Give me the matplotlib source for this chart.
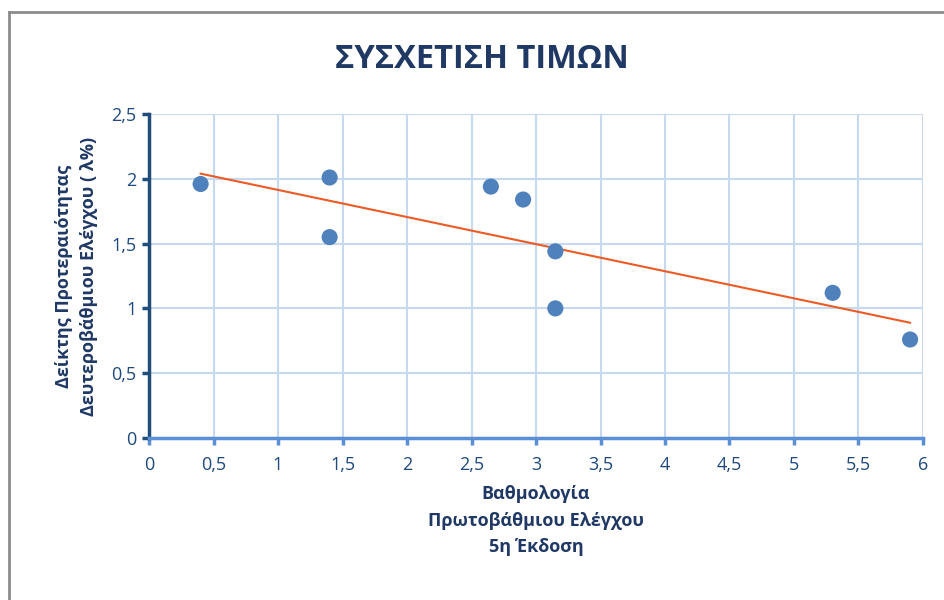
import numpy as np
import matplotlib
matplotlib.use("Agg")
from matplotlib import pyplot as plt
from matplotlib.lines import Line2D
from matplotlib.ticker import FuncFormatter

plt.rcParams['font.family'] = ['Open Sans', 'DejaVu Sans']

# scores (x) and priority index (y)
vathmologia = [0.4, 1.4, 1.4, 2.65, 2.9, 3.15, 3.15, 5.3, 5.9]
deiktis = [1.96, 2.01, 1.55, 1.94, 1.84, 1.44, 1.0, 1.12, 0.76]
x_ticks = [0, 0.5, 1, 1.5, 2, 2.5, 3, 3.5, 4, 4.5, 5, 5.5, 6]
y_ticks = [0, 0.5, 1, 1.5, 2, 2.5]

navy = '#1f497d'
label_col = '#1f3864'

fig = plt.figure(figsize=(9.45, 6.0), dpi=100)
ax = fig.add_axes([0.1577, 0.27, 0.819, 0.54])

# linear trendline over the data range
k, b = np.polyfit(vathmologia, deiktis, 1)
xs = np.array([min(vathmologia), max(vathmologia)])
ax.plot(xs, k * xs + b, color='#ed5a24', lw=1.5, zorder=3)

ax.scatter(vathmologia, deiktis, s=135, color='#4f81bd', zorder=4,
           edgecolors='none')

ax.set_xlim(0, 6)
ax.set_ylim(0, 2.5)
ax.set_xticks(x_ticks)
ax.set_yticks(y_ticks)
fmt = FuncFormatter(lambda v, p: ('%g' % v).replace('.', ','))
ax.xaxis.set_major_formatter(fmt)
ax.yaxis.set_major_formatter(fmt)
ax.grid(True, color='#c6d9f1', lw=1.5)
ax.set_axisbelow(True)

for s in ['top', 'right']:
    ax.spines[s].set_visible(False)
ax.spines['left'].set_color('#1f4e79')
ax.spines['left'].set_linewidth(2.5)
ax.spines['bottom'].set_color('#5b8fd6')
ax.spines['bottom'].set_linewidth(2.5)
ax.tick_params(axis='y', direction='out', length=5, width=2.5,
               color='#1f4e79', labelcolor=navy, labelsize=13, pad=4)
ax.tick_params(axis='x', direction='out', length=5, width=2.5,
               color='#5b8fd6', labelcolor=navy, labelsize=13, pad=8)

ax.set_xlabel('Βαθμολογία\nΠρωτοβάθμιου Ελέγχου\n5η Έκδοση',
              fontsize=13, fontweight='bold', color=label_col,
              linespacing=1.6, labelpad=8)
ax.set_ylabel('Δείκτης Προτεραιότητας\nΔευτεροβάθμιου Ελέγχου ( λ%)',
              fontsize=13, fontweight='bold', color=label_col,
              linespacing=1.5, labelpad=10)

fig.text(0.51, 0.9, 'ΣΥΣΧΕΤΙΣΗ ΤΙΜΩΝ', ha='center', va='center',
         fontsize=23.5, fontweight='bold', color=label_col)

# chart frame (left and top edges visible)
fig.add_artist(Line2D([0.009, 0.009], [0, 0.98], color='#8c8c8c', lw=2,
                      transform=fig.transFigure))
fig.add_artist(Line2D([0.009, 1], [0.98, 0.98], color='#8c8c8c', lw=2,
                      transform=fig.transFigure))

fig.savefig('out.png', dpi=100)
